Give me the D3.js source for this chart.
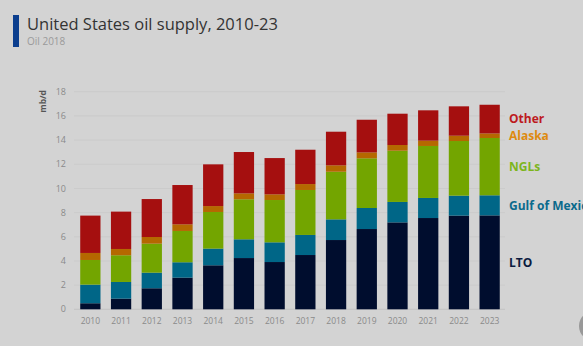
<!DOCTYPE html>
<html>
<head>
<meta charset="utf-8">
<script src="https://cdn.jsdelivr.net/npm/d3@7"></script>
<style>
  html, body { margin: 0; padding: 0; background: #d3d3d3; }
  svg { display: block; font-family: "Open Sans", sans-serif; }
</style>
</head>
<body>
<svg id="chart" width="583" height="346"></svg>
<script>
const years = ["2010", "2011", "2012", "2013", "2014", "2015", "2016", "2017", "2018", "2019", "2020", "2021", "2022", "2023"];
const lto = [0.50, 0.88, 1.74, 2.62, 3.64, 4.24, 3.91, 4.49, 5.73, 6.64, 7.19, 7.55, 7.75, 7.77];
const gulfOfMexico = [1.54, 1.38, 1.29, 1.27, 1.38, 1.55, 1.63, 1.66, 1.71, 1.74, 1.69, 1.66, 1.65, 1.66];
const ngls = [2.04, 2.21, 2.40, 2.59, 3.03, 3.31, 3.50, 3.72, 3.94, 4.11, 4.24, 4.30, 4.52, 4.74];
const alaska = [0.58, 0.52, 0.55, 0.55, 0.49, 0.49, 0.47, 0.49, 0.53, 0.49, 0.47, 0.44, 0.44, 0.38];
const other = [3.09, 3.09, 3.14, 3.25, 3.45, 3.42, 3.00, 2.84, 2.78, 2.70, 2.59, 2.51, 2.43, 2.37];
const yTicks = [0, 2, 4, 6, 8, 10, 12, 14, 16, 18];

const seriesKeys = ["LTO", "Gulf of Mexico", "NGLs", "Alaska", "Other"];
const seriesValues = [lto, gulfOfMexico, ngls, alaska, other];
const barColors = ["#000d2e", "#006687", "#73a500", "#b56800", "#a50f0f"];
const labelColors = ["#0b1b3f", "#0a6a8c", "#7db51c", "#de8a10", "#bd1a1e"];

const svg = d3.select("#chart");

// title block
svg.append("rect").attr("x", 13).attr("y", 15).attr("width", 6).attr("height", 32).attr("fill", "#0b3e8e");
svg.append("text").attr("x", 27).attr("y", 30)
    .attr("font-size", 16.5).attr("fill", "#333").text("United States oil supply, 2010-23");
svg.append("text").attr("x", 27).attr("y", 44.5)
    .attr("font-size", 10).attr("fill", "#9a9a9a").text("Oil 2018");

const rows = years.map((yr, i) => {
    const row = { year: yr };
    seriesKeys.forEach((k, j) => row[k] = seriesValues[j][i]);
    return row;
});
const stacked = d3.stack().keys(seriesKeys)(rows);

const x = d3.scaleBand().domain(years).range([75, 505]).paddingInner(0.34).paddingOuter(0.17);
const y = d3.scaleLinear().domain([0, 18]).range([309.3, 91.7]);

// grid
svg.append("g").selectAll("line").data(yTicks).join("line")
    .attr("x1", 74).attr("x2", 505)
    .attr("y1", d => y(d)).attr("y2", d => y(d))
    .attr("stroke", d => d === 0 ? "#c4c4c4" : "#cbcbcb").attr("stroke-width", 1);

svg.append("g").selectAll("text").data(yTicks).join("text")
    .attr("x", 66).attr("y", d => y(d)).attr("dy", "0.35em")
    .attr("text-anchor", "end").attr("font-size", 9).attr("fill", "#8a8a8a")
    .text(d => d);

svg.append("text")
    .attr("transform", `translate(46, ${y(17.2)}) rotate(-90)`)
    .attr("text-anchor", "middle").attr("font-size", 8.5).attr("font-weight", "bold").attr("fill", "#555")
    .text("mb/d");

// stacked bars
svg.append("g").selectAll("g").data(stacked).join("g")
    .attr("fill", (d, i) => barColors[i])
    .selectAll("rect").data(d => d).join("rect")
    .attr("x", d => x(d.data.year))
    .attr("width", x.bandwidth())
    .attr("y", d => y(d[1]))
    .attr("height", d => y(d[0]) - y(d[1]));

svg.append("g").selectAll("text").data(years).join("text")
    .attr("x", d => x(d) + x.bandwidth() / 2).attr("y", 324)
    .attr("text-anchor", "middle").attr("font-size", 8.5).attr("fill", "#8a8a8a")
    .text(d => d);

// labels beside the last bar
const last = years.length - 1;
svg.append("g").selectAll("text").data(stacked).join("text")
    .attr("x", 509)
    .attr("y", d => y((d[last][0] + d[last][1]) / 2))
    .attr("dy", "0.35em")
    .attr("font-size", 12).attr("font-weight", "bold")
    .attr("fill", (d, i) => labelColors[i])
    .text(d => d.key);

// partly visible round button at the edge
svg.append("circle").attr("cx", 594).attr("cy", 326).attr("r", 15).attr("fill", "#999");
</script>
</body>
</html>
